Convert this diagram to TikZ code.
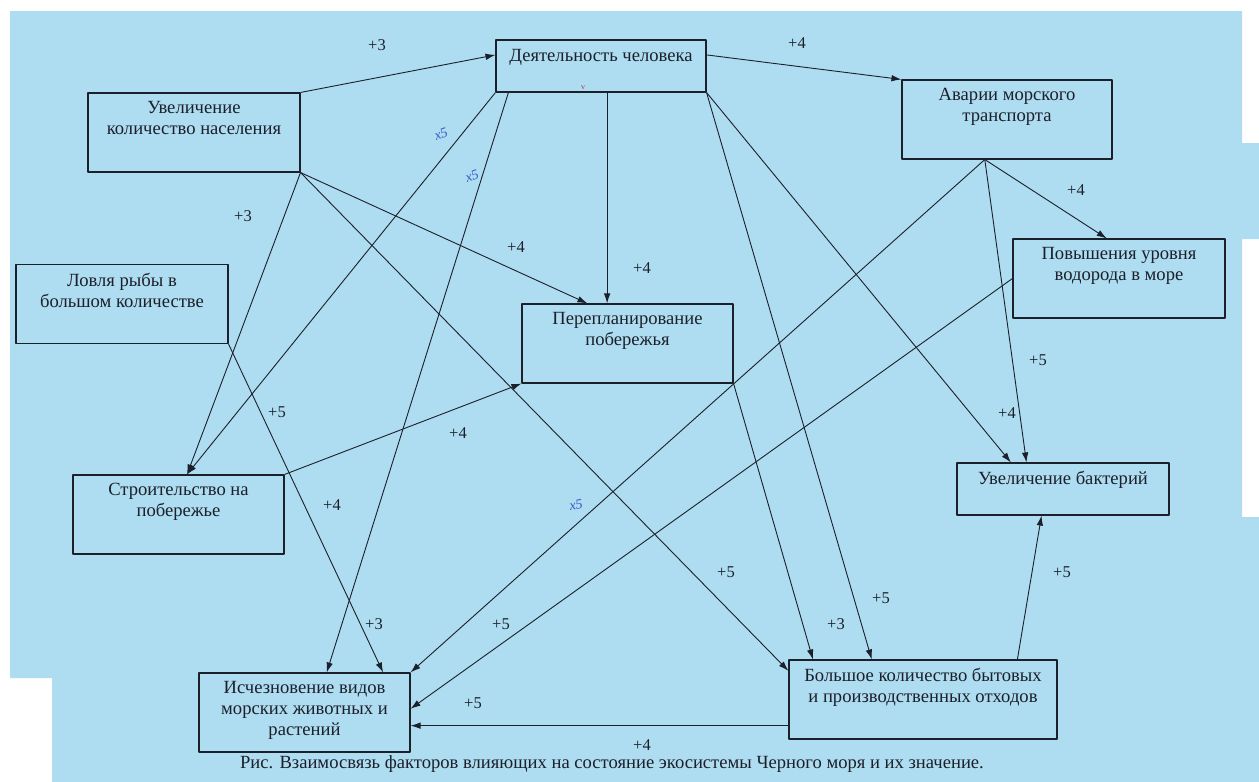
\documentclass[tikz,border=0pt]{standalone}
\usepackage{fontspec}
\setmainfont{Liberation Serif}
\usetikzlibrary{positioning,arrows.meta}
\definecolor{sea}{RGB}{174,220,240}
\definecolor{ink}{RGB}{28,32,42}
\definecolor{pen}{RGB}{60,90,205}
\definecolor{redpen}{RGB}{200,40,90}

\begin{document}
\begin{tikzpicture}[x=1pt,y=-1pt,line join=round,
    box/.style={draw=ink,line width=1.1pt,inner sep=0pt,minimum width=212pt,minimum height=79pt},
    txt/.style={align=center,inner sep=0pt,text=ink,font=\fontsize{18.6}{21}\selectfont},
    num/.style={inner sep=0pt,text=ink,font=\fontsize{16.5}{16.5}\selectfont},
    hand/.style={inner sep=0pt,text=pen,font=\fontsize{14}{14}\selectfont\itshape},
    link/.style={draw=ink,line width=0.9pt,-{Latex[length=10pt,width=6.5pt]}}]
    \fill[white] (0,0) rectangle (1259,782);
    \useasboundingbox (0,0) rectangle (1259,782);
    \fill[sea] (10,11) -- (1242,11) -- (1242,143) -- (1259,143) -- (1259,239) -- (1242,239)
        -- (1242,517) -- (1259,517) -- (1259,782) -- (52,782) -- (52,678) -- (10,678) -- cycle;
    % boxes
    \node[box,minimum width=210pt,minimum height=52pt] (deyat) at (601,66) {};
    \node[box] (nas) at (194,132.5) {};
    \node[box,minimum width=210pt] (avarii) at (1007,119.5) {};
    \node[box] (povysh) at (1119,278.5) {};
    \node[box] (lovlya) at (122,304) {};
    \node[box,minimum width=211pt] (pereplan) at (627.5,343.5) {};
    \node[box,minimum height=52pt] (bakt) at (1063,489) {};
    \node[box,minimum width=211pt] (stroit) at (178.5,514.5) {};
    \node[box,minimum width=211pt] (ischez) at (304.5,712.5) {};
    \node[box,minimum width=268pt] (bolshoe) at (923,699.5) {};
    % texts
    \node[txt,below=10pt of deyat.north] (tdeyat) {Деятельность человека};
    \node[txt,below=9pt of nas.north] (tnas) {Увеличение\\количество населения};
    \node[txt,below=9pt of avarii.north] (tavarii) {Аварии морского\\транспорта};
    \node[txt,below=9pt of povysh.north] (tpovysh) {Повышения уровня\\водорода в море};
    \node[txt,below=9pt of lovlya.north] (tlovlya) {Ловля рыбы в\\большом количестве};
    \node[txt,below=9pt of pereplan.north] (tpereplan) {Перепланирование\\побережья};
    \node[txt,below=9pt of bakt.north] (tbakt) {Увеличение бактерий};
    \node[txt,below=9pt of stroit.north] (tstroit) {Строительство на\\побережье};
    \node[txt,below=9pt of ischez.north] (tischez) {Исчезновение видов\\морских животных и\\растений};
    \node[txt,below=9pt of bolshoe.north] (tbolshoe) {Большое количество бытовых\\и производственных отходов};
    % links
    \draw[link] (nas.north east) -- (deyat.174);
    \draw[link] (deyat.6) -- (avarii.north west);
    \draw[link] (deyat.-77) -- (deyat.-77 |- pereplan.north);
    \draw[link] (nas.south east) -- (pereplan.135);
    \draw[link] (nas.south east) -- (stroit.78);
    \draw[link] (deyat.south west) -- (stroit.78);
    \draw[link] (nas.south east) -- (bolshoe.168);
    \draw[link] (deyat.196) -- (ischez.61);
    \draw[link] (lovlya.south east) -- (ischez.27);
    \draw[link] (stroit.north east) -- (pereplan.south west);
    \draw[link] (deyat.south east) -- (bolshoe.142);
    \draw[link] (deyat.south east) -- (bakt.153);
    \draw[link] (avarii.241) -- (bakt.144);
    \draw[link] (avarii.241) -- (povysh.107);
    \draw[link] (avarii.241) -- (ischez.north east);
    \draw[link] (povysh.west) -- (ischez.2);
    \draw[link] (bolshoe.191) -- (bolshoe.191 -| ischez.east);
    \draw[link] (pereplan.south east) -- (bolshoe.160);
    \draw[link] (bolshoe.23) -- (bakt.231);
    % weights
    \foreach \t/\px/\py [count=\i] in {+3/377/45, +4/797/43, +3/243/216, +4/516/247, +4/642/268,
        +4/1076/190, +5/1038/360, +5/277/412, +4/1007/413, +4/458/433, +4/332/505, +5/726/572,
        +5/1062/572, +5/881/598, +3/374/624, +5/501/624, +3/836/624, +5/473/703, +4/642/745}
        \node[num] (w\i) at (\px,\py) {\t};
    % pen marks
    \node[hand,rotate=20] (h1) at (441,134) {x5};
    \node[hand,rotate=20] (h2) at (472,176) {x5};
    \node[hand,rotate=10] (h3) at (576,505) {x5};
    \node[inner sep=0pt,text=redpen,font=\fontsize{8}{8}\selectfont] (h4) at (583,88) {v};
    % caption
    \node[txt,anchor=base] (cap) at (612,768) {Рис. Взаимосвязь факторов влияющих на состояние экосистемы Черного моря и их значение.};
\end{tikzpicture}
\end{document}
